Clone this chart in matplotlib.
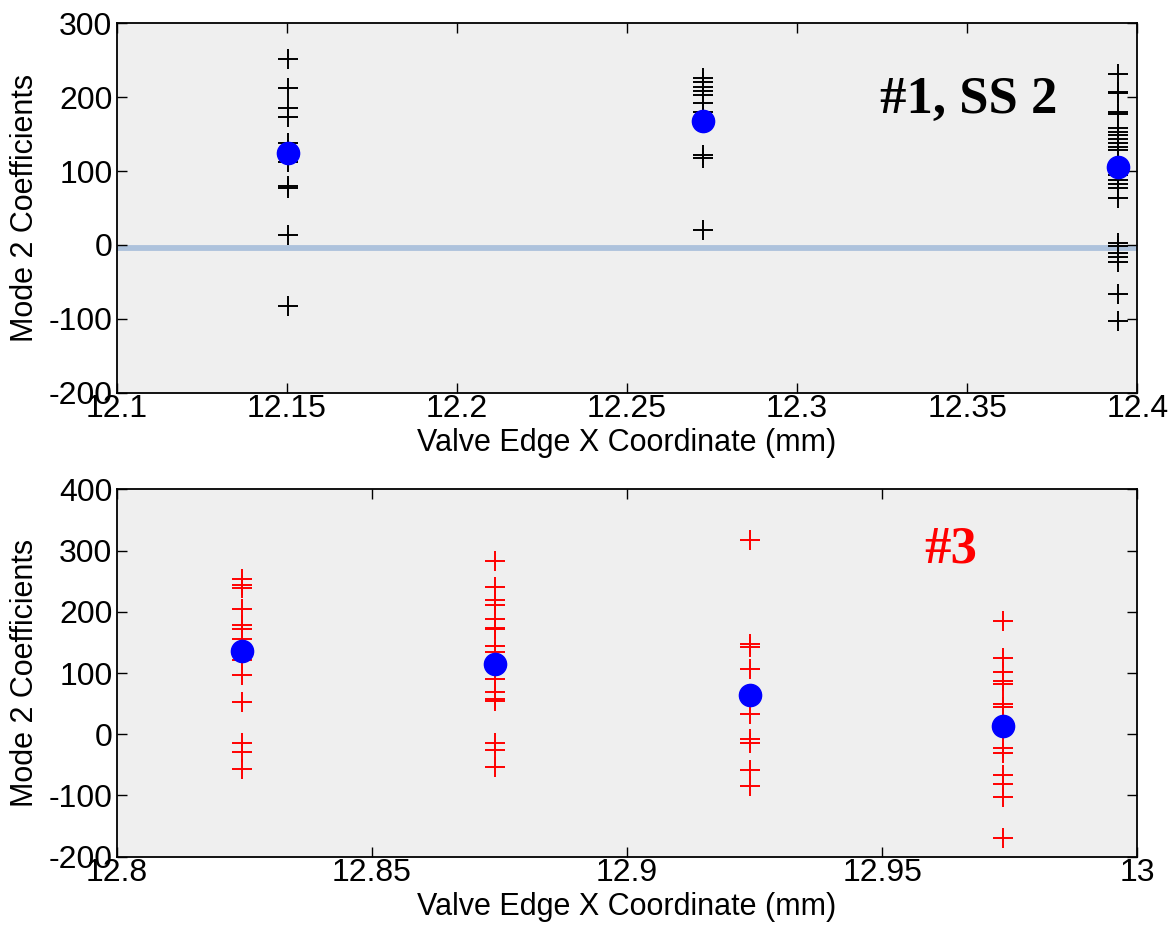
import numpy as np
import matplotlib
matplotlib.use("Agg")
import matplotlib.pyplot as plt

plt.rcParams['font.family'] = ['Liberation Sans', 'DejaVu Sans']
plt.rcParams['axes.unicode_minus'] = False

# top panel (#1, SS 2): x positions and coefficients
top_x = [12.1503, 12.2724, 12.3942]
top_vals = [
    [252, 213, 186, 173, 138, 125, 112, 80, 77, 13, -83],
    [226, 220, 214, 209, 203, 192, 180, 170, 122, 117, 20],
    [231, 207, 205, 180, 177, 158, 153, 149, 143, 138, 132, 129, 110,
     95, 88, 82, 77, 64, 3, -2, -11, -16, -23, -66, -103],
]
top_means = [125, 168, 105]
top_zero = -4

# bottom panel (#3)
bot_x = [12.8245, 12.8742, 12.9241, 12.9737]
bot_vals = [
    [254, 243, 239, 204, 178, 172, 155, 122, 97, 53, -15, -29, -57],
    [283, 241, 219, 211, 189, 174, 172, 144, 134, 91, 69, 57, 54, -14, -26, -54],
    [317, 147, 142, 106, 33, -8, -15, -58, -84],
    [185, 124, 102, 87, 82, 49, 44, -23, -31, -67, -82, -103, -170],
]
bot_means = [136, 114, 64, 13]

top_xticks = [12.1, 12.15, 12.2, 12.25, 12.3, 12.35, 12.4]
top_xlabels = ['12.1', '12.15', '12.2', '12.25', '12.3', '12.35', '12.4']
top_yticks = [-200, -100, 0, 100, 200, 300]
bot_xticks = [12.8, 12.85, 12.9, 12.95, 13.0]
bot_xlabels = ['12.8', '12.85', '12.9', '12.95', '13']
bot_yticks = [-200, -100, 0, 100, 200, 300, 400]

fig = plt.figure(figsize=(11.74, 9.31), dpi=100)
ax1 = fig.add_axes([0.0994, 0.5782, 0.8694, 0.3968])
ax2 = fig.add_axes([0.0994, 0.0798, 0.8694, 0.3946])


def style(ax, xticks, xlabels, yticks):
    ax.set_facecolor('#efefef')
    ax.set_xticks(xticks)
    ax.set_xticklabels(xlabels)
    ax.set_yticks(yticks)
    ax.set_xlim(xticks[0], xticks[-1])
    ax.set_ylim(yticks[0], yticks[-1])
    ax.tick_params(direction='in', top=True, right=True, length=7, width=1,
                   labelsize=23, pad=3)
    ax.tick_params(axis='x', pad=1)
    for s in ax.spines.values():
        s.set_linewidth(1.3)
    ax.set_xlabel('Valve Edge X Coordinate (mm)', fontsize=22, labelpad=3)
    ax.set_ylabel('Mode 2 Coefficients', fontsize=22, labelpad=6)


ax1.axhline(top_zero, color='#adc2dc', lw=4.2, zorder=1)
for x, vals in zip(top_x, top_vals):
    ax1.plot([x] * len(vals), vals, '+', color='k', ms=14, mew=1.4, zorder=2)
ax1.plot(top_x, top_means, 'o', color='blue', ms=16, zorder=3)
style(ax1, top_xticks, top_xlabels, top_yticks)
ax1.text(12.3505, 196, '#1, SS 2', fontsize=38, fontweight='bold',
         family='Liberation Serif', ha='center', va='center')

for x, vals in zip(bot_x, bot_vals):
    ax2.plot([x] * len(vals), vals, '+', color='red', ms=14, mew=1.4, zorder=2)
ax2.plot(bot_x, bot_means, 'o', color='blue', ms=16, zorder=3)
style(ax2, bot_xticks, bot_xlabels, bot_yticks)
ax2.text(12.9634, 302, '#3', fontsize=38, fontweight='bold', color='red',
         family='Liberation Serif', ha='center', va='center')

fig.savefig('out.png', dpi=100)
